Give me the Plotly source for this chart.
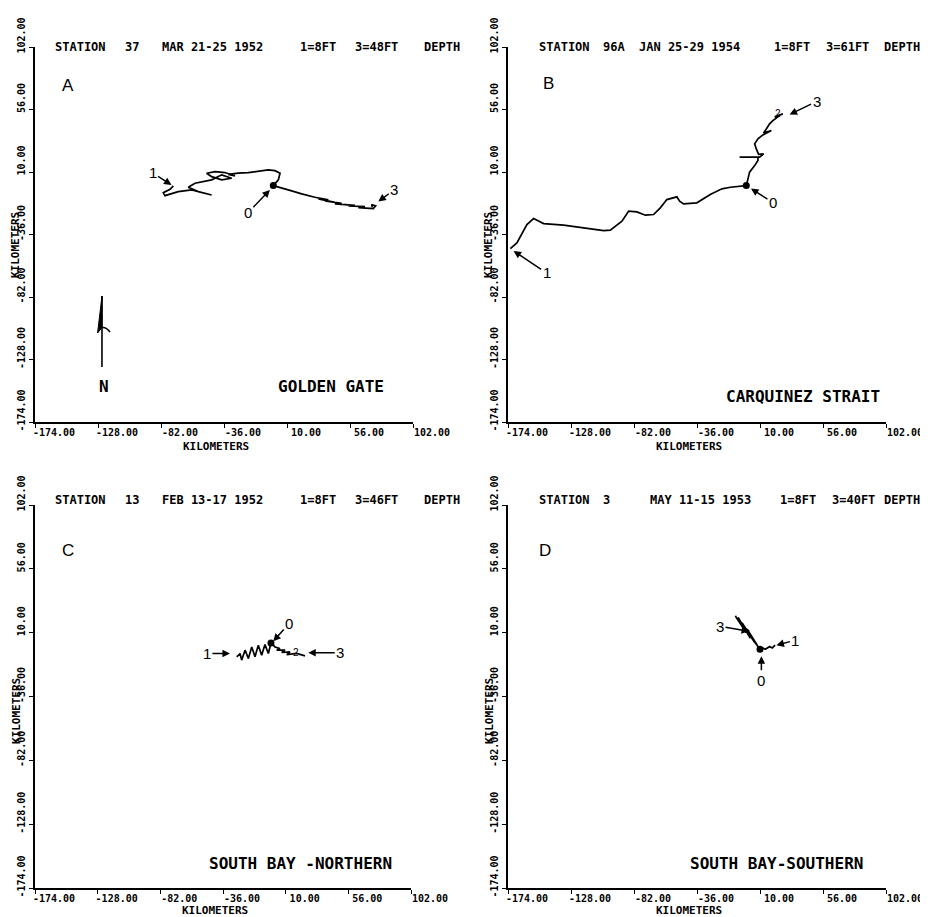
import plotly.graph_objects as go

# ---------------- data (kilometres) ----------------
TICK_VALUES = [-174, -128, -82, -36, 10, 56, 102]
TICK_LABELS = ["-174.00", "-128.00", "-82.00", "-36.00", "10.00", "56.00", "102.00"]

# Panel A - Golden Gate (station 37)
A_d1_x = [0, 3.7, 4.9, 1.2, -3.7, -11.0, -18.3, -25.6, -32.9, -28.0, -35.3, -42.6, -48.7, -45.0,
          -37.7, -30.4, -37.7, -45.0, -52.3, -57.2, -62.1, -54.8, -45.0, -59.6, -69.4, -79.1,
          -80.3, -75.4, -73.0]
A_d1_y = [0, 4.2, 9.1, 11.0, 11.5, 10.3, 9.6, 9.1, 8.3, 7.1, 9.6, 10.3, 9.1, 6.6, 4.2, 5.4, 7.9,
          4.2, 2.9, 1.7, -1.2, -4.4, -6.9, -3.2, -4.4, -7.4, -5.2, -2.7, -0.2]
A_d3_x = [0, 6.1, 13.4, 20.7, 30.4, 40.2, 32.9, 45.0, 37.7, 49.9, 45.0, 59.6, 54.8, 66.9, 62.1,
          73.0, 74.7, 71.8, 72.3]
A_d3_y = [0, -2.0, -3.9, -6.1, -8.6, -10.5, -9.8, -12.3, -11.3, -13.0, -13.5, -14.5, -15.0,
          -15.5, -16.2, -16.9, -15.0, -14.0, -15.9]

# Panel B - Carquinez Strait (station 96A)
B_d1_x = [0, -11.7, -17.8, -26.3, -36.1, -45.8, -48.7, -50.7, -58.0, -62.8, -67.7, -73.7, -79.9,
          -85.9, -90.8, -99.3, -104.2, -133.4, -148.0, -155.3, -160.2, -167.5, -172.3]
B_d1_y = [0, -1.2, -2.4, -6.6, -12.7, -13.5, -11.5, -8.3, -10.3, -16.4, -21.3, -21.8, -19.4,
          -18.8, -26.2, -32.8, -33.1, -29.1, -28.0, -24.3, -28.7, -42.2, -46.4]
B_d3_x = [0, 1.2, 2.4, 6.1, 8.5, 8.5, -4.9, 9.7, 12.6, 9.0, 7.3, 6.1, 8.5, 12.1, 18.3, 12.6,
          14.6, 17.0, 19.4, 24.3, 20.7, 26.7]
B_d3_y = [0, 4.9, 9.9, 14.7, 18.4, 20.9, 20.9, 20.9, 23.3, 23.0, 27.0, 30.7, 34.4, 37.3, 40.5,
          38.8, 41.7, 45.4, 47.8, 51.5, 50.6, 52.8]

# Panel C - South Bay northern (station 13)
C_d1_x = [-0.8, -2.7, -5.2, -7.6, -10.1, -12.5, -14.9, -17.4, -19.8, -22.3, -23.5, -25.9]
C_d1_y = [2.6, -5.0, 1.4, -6.2, 1.0, -7.4, -0.3, -8.6, -2.6, -9.8, -5.0, -7.4]
C_d3_x = [-0.8, 2.2, 5.8, 3.4, 9.5, 7.1, 13.2, 10.8, 18.1, 21.8, 24.2]
C_d3_y = [2.6, -0.3, -1.5, -2.6, -2.6, -4.3, -3.8, -5.8, -5.0, -6.2, -6.7]

# Panel D - South Bay southern (station 3)
D_d1_x = [10, 12, 14, 17, 19, 21]
D_d1_y = [-2, -1, -2, 0, -1, 1]
D_d3_x = [10, 4, 8, 1, 6, -3, 3, -6, 0, -8, -3, 2]
D_d3_y = [-2, 6, 1, 12, 3, 17, 6, 21, 10, 22, 15, 11]

A_header = ["STATION", "37", "MAR 21-25 1952", "1=8FT", "3=48FT", "DEPTH"]
B_header = ["STATION", "96A", "JAN 25-29 1954", "1=8FT", "3=61FT", "DEPTH"]
C_header = ["STATION", "13", "FEB 13-17 1952", "1=8FT", "3=46FT", "DEPTH"]
D_header = ["STATION", "3", "MAY 11-15 1953", "1=8FT", "3=40FT", "DEPTH"]
LOCATIONS = ["GOLDEN GATE", "CARQUINEZ STRAIT", "SOUTH BAY -NORTHERN", "SOUTH BAY-SOUTHERN"]
LETTERS = ["A", "B", "C", "D"]

# ---------------- layout helpers ----------------
# the page body has an 8 px margin, so the figure is drawn 8 px in from the corner
OFF = 8
W, H = 928 - OFF, 917 - OFF
MONO = "DejaVu Sans Mono"
SANS = "Liberation Sans"


def px_x(p):
    return (p - OFF) / W


def px_y(p):
    return 1 - (p - OFF) / H


def mono(size):
    return dict(family=MONO, size=size, color="black", weight="bold")


panels = [
    dict(letter=0, xs="", d1=(A_d1_x, A_d1_y), d3=(A_d3_x, A_d3_y), origin=(0, 0),
         xpx=(35, 413), ypx=(47, 422), header=A_header,
         hx=[53, 123, 160, 298, 353, 422], hy=47,
         letter_pos=(-155.7, 74.0), loc_pos=(42.1, -148.2),
         arrows=[("1", -74.3, 0.5, -19, -12), ("0", -2.5, -3.2, -22, 23), ("3", 76.7, -11.8, 16, -12)],
         xtitle_py=446, ytitle_py=245),
    dict(letter=1, xs="2", d1=(B_d1_x, B_d1_y), d3=(B_d3_x, B_d3_y), origin=(0, 0),
         xpx=(508, 886), ypx=(47, 422), header=B_header,
         hx=[537, 601, 637, 772, 824, 882], hy=47,
         letter_pos=(-149.9, 74.8), loc_pos=(41.4, -155.6),
         arrows=[("1", -169.9, -48.1, 33, 22), ("0", 3.4, -2.2, 22, 14), ("3", 31.6, 52.3, 27, -13)],
         xtitle_py=446, ytitle_py=245),
    dict(letter=2, xs="3", d1=(C_d1_x, C_d1_y), d3=(C_d3_x, C_d3_y), origin=(-0.8, 2.6),
         xpx=(35, 411), ypx=(505, 888), header=C_header,
         hx=[53, 123, 160, 298, 353, 422], hy=500,
         letter_pos=(-155.6, 69.1), loc_pos=(20.9, -156.1),
         arrows=[("0", 0.9, 3.8, 16, -18), ("1", -30.9, -5.0, -23, 0), ("3", 26.6, -4.5, 32, 0)],
         xtitle_py=910, ytitle_py=711),
    dict(letter=3, xs="4", d1=(D_d1_x, D_d1_y), d3=(D_d3_x, D_d3_y), origin=(10, -2),
         xpx=(508, 886), ypx=(505, 888), header=D_header,
         hx=[537, 601, 648, 778, 830, 882], hy=500,
         letter_pos=(-152.8, 69.1), loc_pos=(22.4, -156.1),
         arrows=[("0", 11, -7, 0, 24), ("3", 2, 11, -29, -5), ("1", 22, 1, 19, -5)],
         xtitle_py=910, ytitle_py=711),
]

fig = go.Figure()
annotations = []
shapes = []
layout_axes = {}

for p in panels:
    xa = "x" + p["xs"]
    ya = "y" + p["xs"]
    xkey = "xaxis" + p["xs"]
    ykey = "yaxis" + p["xs"]
    common = dict(range=[-174, 102], tickmode="array", tickvals=TICK_VALUES, ticktext=TICK_LABELS,
                  showline=True, linecolor="black", linewidth=1.5, ticks="outside", ticklen=4,
                  tickwidth=1.3, tickcolor="black", showgrid=False, zeroline=False, mirror=False,
                  fixedrange=True, automargin=False, tickfont=mono(10))
    layout_axes[xkey] = dict(common, domain=[px_x(p["xpx"][0]), px_x(p["xpx"][1])], anchor=ya,
                             tickangle=0, ticklabelshift=19, ticklabelstandoff=-4)
    layout_axes[ykey] = dict(common, domain=[px_y(p["ypx"][1]), px_y(p["ypx"][0])], anchor=xa,
                             tickangle=-90, ticklabelshift=-10)

    for xs_, ys_ in (p["d1"], p["d3"]):
        fig.add_trace(go.Scatter(x=xs_, y=ys_, mode="lines", xaxis=xa, yaxis=ya,
                                 line=dict(color="black", width=1.7), showlegend=False,
                                 hoverinfo="skip"))
    fig.add_trace(go.Scatter(x=[p["origin"][0]], y=[p["origin"][1]], mode="markers", xaxis=xa,
                             yaxis=ya, marker=dict(color="black", size=7), showlegend=False,
                             hoverinfo="skip"))

    # header tokens (page pixel positions)
    for tok, hx in zip(p["header"], p["hx"]):
        annotations.append(dict(x=px_x(hx), y=px_y(p["hy"]), xref="paper", yref="paper",
                                text=tok, showarrow=False, xanchor="left", yanchor="middle",
                                font=mono(12)))
    # panel letter
    annotations.append(dict(x=p["letter_pos"][0], y=p["letter_pos"][1], xref=xa, yref=ya,
                            text=LETTERS[p["letter"]], showarrow=False, xanchor="left",
                            yanchor="middle", font=dict(family=SANS, size=17, color="black")))
    # location
    annotations.append(dict(x=p["loc_pos"][0], y=p["loc_pos"][1], xref=xa, yref=ya,
                            text=LOCATIONS[p["letter"]], showarrow=False, xanchor="center",
                            yanchor="middle", font=mono(16)))
    # arrows with depth labels
    for txt, ax_, ay_, dx, dy in p["arrows"]:
        annotations.append(dict(x=ax_, y=ay_, xref=xa, yref=ya, text=txt, showarrow=True,
                                ax=dx, ay=dy, arrowhead=2, arrowsize=1, arrowwidth=1.5,
                                arrowcolor="black", standoff=0,
                                font=dict(family=SANS, size=15, color="black")))
    # axis titles
    xc = (p["xpx"][0] + p["xpx"][1]) / 2 - 8
    annotations.append(dict(x=px_x(xc), y=px_y(p["xtitle_py"]), xref="paper", yref="paper",
                            text="KILOMETERS", showarrow=False, xanchor="center", yanchor="middle",
                            font=mono(11)))
    annotations.append(dict(x=px_x(p["xpx"][0] - 19), y=px_y(p["ytitle_py"]), xref="paper",
                            yref="paper", text="KILOMETERS", showarrow=False, textangle=-90,
                            xanchor="center", yanchor="middle", font=mono(11)))

# small "2" markers near end of deep trajectories
annotations.append(dict(x=23.0, y=53.0, xref="x2", yref="y2", text="2", showarrow=False,
                        font=dict(family=SANS, size=10, color="black")))
annotations.append(dict(x=17.5, y=-4.5, xref="x3", yref="y3", text="2", showarrow=False,
                        font=dict(family=SANS, size=10, color="black")))

# North arrow in panel A
shapes.append(dict(type="line", xref="x", yref="y", x0=-125.1, y0=-133.5, x1=-125.1, y1=-81.3,
                   line=dict(color="black", width=1.6)))
shapes.append(dict(type="path", xref="x", yref="y",
                   path="M -125.1,-81.3 L -128.3,-108.5 L -125.1,-104.5 Z",
                   fillcolor="black", line=dict(color="black", width=1)))
shapes.append(dict(type="path", xref="x", yref="y",
                   path="M -125.1,-104.5 Q -122,-104 -119.2,-107.8",
                   line=dict(color="black", width=1.5)))
annotations.append(dict(x=-123.6, y=-148.2, xref="x", yref="y", text="N", showarrow=False,
                        font=mono(16)))

fig.update_layout(width=W, height=H, autosize=False, margin=dict(l=0, r=0, t=0, b=0),
                  paper_bgcolor="white", plot_bgcolor="white", annotations=annotations,
                  shapes=shapes, showlegend=False, **layout_axes)

fig.write_html("out.html")
